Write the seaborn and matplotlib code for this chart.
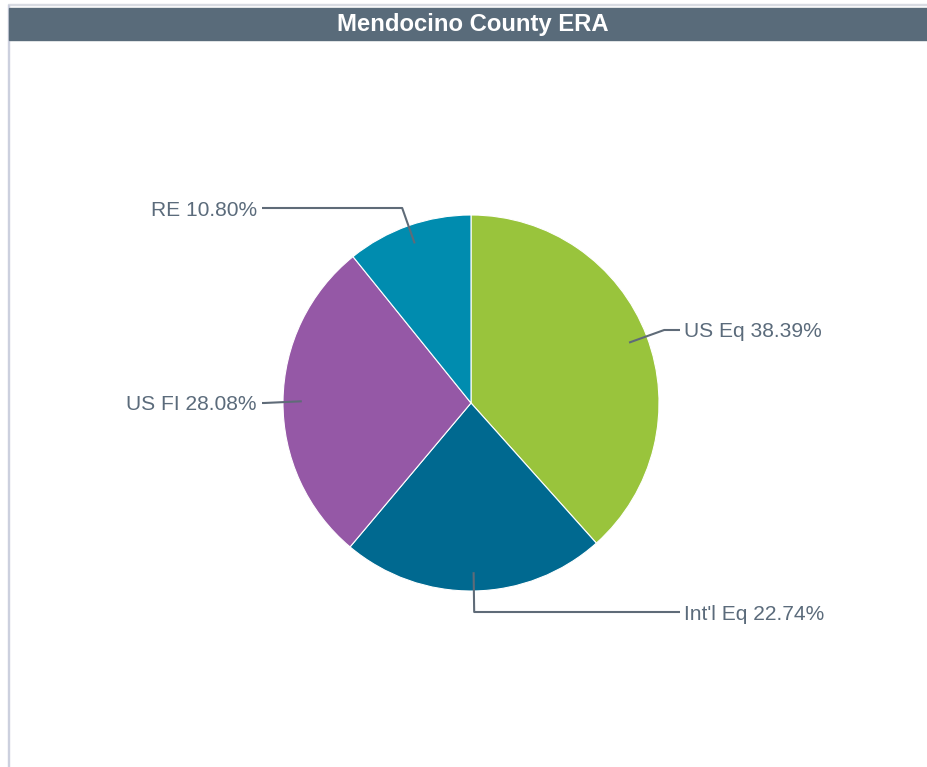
import numpy as np
import matplotlib
matplotlib.use("Agg")
import matplotlib.pyplot as plt
import seaborn as sns
from matplotlib.patches import Rectangle

# ---- data ----
categories = ["US Eq", "Int'l Eq", "US FI", "RE"]
values = [38.39, 22.74, 28.08, 10.80]
colors = ["#99c43c", "#006990", "#9558a6", "#008caf"]
title = "Mendocino County ERA"

sns.set_theme(style="white")
plt.rcParams['font.family'] = ['Liberation Sans', 'DejaVu Sans']

W, H = 928, 767
fig = plt.figure(figsize=(W / 100, H / 100), dpi=100)
ax = fig.add_axes([0, 0, 1, 1])

cx, cy, r = 471, H - 403, 188
wedges, _ = ax.pie(values, colors=colors, startangle=90, counterclock=False,
                   center=(cx, cy), radius=r,
                   wedgeprops=dict(edgecolor="white", linewidth=0.8))
ax.set_xlim(0, W)
ax.set_ylim(0, H)
ax.set_aspect('equal')
ax.axis('off')

txt_col = "#5b6b7b"
line_col = "#5f6b78"
label_y = [330, 612, 403, 208]
for w, cat, val, ly in zip(wedges, categories, values, label_y):
    ang = np.deg2rad((w.theta1 + w.theta2) / 2)
    ax_, ay_ = cx + 0.9 * r * np.cos(ang), cy + 0.9 * r * np.sin(ang)
    ex, ey = cx + 1.1 * r * np.cos(ang), H - ly
    right = np.cos(ang) > 0
    lx = 680 if right else 262
    ax.plot([ax_, ex, lx], [ay_, ey, ey], color=line_col, lw=1.5,
            solid_capstyle='butt', zorder=3)
    ax.text(lx + (4 if right else -5), ey, f"{cat} {val:.2f}%",
            ha='left' if right else 'right', va='center_baseline',
            fontsize=15.1, color=txt_col)

# frame: top line, left border, title bar
ax.add_patch(Rectangle((8, H - 5), W - 8, 1.5, color="#d8dbe2", zorder=1, clip_on=False))
ax.add_patch(Rectangle((8, 0), 1.5, H - 5, color="#ccd0de", zorder=1))
ax.add_patch(Rectangle((9, H - 40), W - 9, 32, color="#596b7a", zorder=2))
ax.text(473, H - 24, title, ha='center', va='center', color='white',
        fontsize=17.2, fontweight='bold', zorder=4)

fig.savefig("out.png", dpi=100)
